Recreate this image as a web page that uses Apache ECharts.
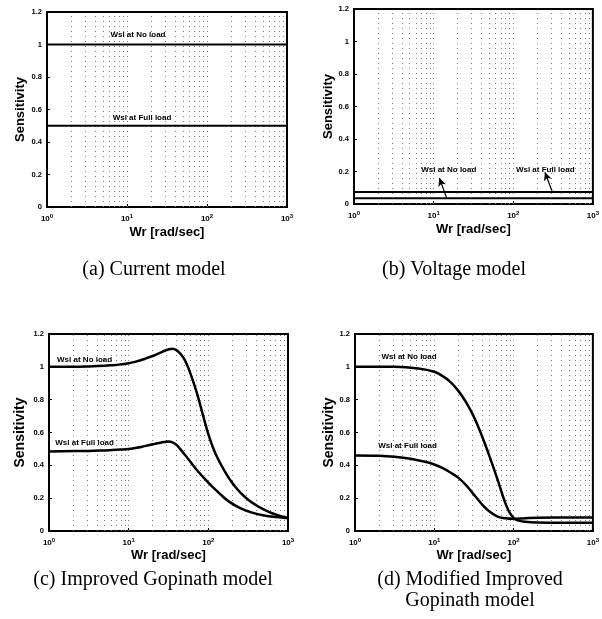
<!DOCTYPE html>
<html><head><meta charset="utf-8">
<script src="https://cdn.jsdelivr.net/npm/echarts@6/dist/echarts.min.js"></script>
<style>html,body{margin:0;padding:0;background:#fff}#c{width:602px;height:619px}</style>
</head><body><div id="c"></div><script>
// ---- data ----
const xTickExponents = [0, 1, 2, 3];
const yTicks = [0, 0.2, 0.4, 0.6, 0.8, 1, 1.2];
const gridLineValues = [2,3,4,5,6,7,8,9,10,20,30,40,50,60,70,80,90,100,200,300,400,500,600,700,800,900];

const aNoLoadX = [1, 1000];
const aNoLoadY = [1.0, 1.0];
const aFullLoadX = [1, 1000];
const aFullLoadY = [0.5, 0.5];

const bNoLoadX = [1, 1000];
const bNoLoadY = [0.036, 0.036];
const bFullLoadX = [1, 1000];
const bFullLoadY = [0.074, 0.074];

const cNoLoadX = [1,2,3.16,5,6.3,7.9,10,12.6,15.8,20,25.1,28.2,31.6,35.5,39.8,44.7,50.1,56.2,63.1,70.8,79.4,89.1,100,112,126,158,200,251,316,398,501,631,794,1000];
const cNoLoadY = [1.0,1.0,1.002,1.006,1.01,1.015,1.022,1.033,1.048,1.066,1.087,1.098,1.106,1.11,1.102,1.08,1.045,0.992,0.925,0.85,0.765,0.675,0.59,0.52,0.46,0.37,0.292,0.235,0.19,0.157,0.13,0.108,0.092,0.08];
const cFullLoadX = [1,3.16,5,6.3,7.9,10,12.6,15.8,20,25.1,28.2,31.6,35.5,39.8,44.7,50.1,56.2,63.1,70.8,79.4,89.1,100,112,141,178,251,355,501,708,1000];
const cFullLoadY = [0.485,0.488,0.491,0.493,0.496,0.50,0.507,0.517,0.528,0.538,0.542,0.545,0.54,0.525,0.497,0.468,0.437,0.405,0.375,0.347,0.32,0.295,0.27,0.225,0.182,0.14,0.112,0.095,0.085,0.078];

const dNoLoadX = [1,3.16,6.3,10,12.6,15.8,20,25.1,31.6,39.8,50.1,63.1,70.8,79.4,89.1,100,112,141,200,1000];
const dNoLoadY = [1.0,1.0,0.99,0.97,0.945,0.91,0.855,0.785,0.695,0.58,0.45,0.31,0.235,0.165,0.112,0.08,0.065,0.056,0.052,0.05];
const dFullLoadX = [1,2,3.16,5,7.9,10,12.6,15.8,20,25.1,31.6,39.8,50.1,63.1,79.4,100,141,200,1000];
const dFullLoadY = [0.46,0.458,0.452,0.44,0.42,0.405,0.385,0.358,0.325,0.28,0.222,0.163,0.117,0.088,0.077,0.074,0.078,0.081,0.082];

const panelCaptions = [['(a) Current model'], ['(b) Voltage model'], ['(c) Improved Gopinath model'], ['(d) Modified Improved', 'Gopinath model']];
const annoNoLoad = 'Wsl at No load';
const annoFullLoad = 'Wsl at Full load';

// ---- layout ----
const grids = [
  {left: 47, top: 12, width: 240, height: 195},
  {left: 354, top: 9, width: 242, height: 195},
  {left: 49, top: 334, width: 239, height: 197},
  {left: 355, top: 334, width: 241, height: 197}
];
const yNameGaps = [20, 15, 22, 18];
const yNameSizes = [13, 13, 14, 14];
const xNameGaps = [19, 19, 18, 18];

const sans = 'Liberation Sans, Arial, sans-serif';
const serif = 'Liberation Serif, Times New Roman, serif';

function xy(xs, ys) { return xs.map((x, i) => [x, ys[i]]); }

const xAxes = grids.map((g, i) => ({
  type: 'log', logBase: 10, min: 1, max: 1000, gridIndex: i,
  axisLine: {show: true, onZero: false, lineStyle: {color: '#000', width: 2}},
  axisTick: {show: true, inside: true, length: 3, lineStyle: {color: '#000'}},
  splitLine: {show: false},
  axisLabel: {
    color: '#000', margin: 6,
    formatter: v => '{a|10}{b|' + Math.round(Math.log10(v)) + '}',
    rich: {
      a: {fontSize: 8, fontWeight: 'bold', fontFamily: sans, color: '#000'},
      b: {fontSize: 6, fontWeight: 'bold', fontFamily: sans, color: '#000', verticalAlign: 'top', padding: [0, 0, 5, 0]}
    }
  },
  name: 'Wr [rad/sec]', nameLocation: 'middle', nameGap: xNameGaps[i],
  nameTextStyle: {fontSize: 13, fontWeight: 'bold', fontFamily: sans, color: '#000'}
}));

const yAxes = grids.map((g, i) => ({
  type: 'value', min: yTicks[0], max: yTicks[yTicks.length - 1], interval: 0.2, gridIndex: i,
  axisLine: {show: true, lineStyle: {color: '#000', width: 2}},
  axisTick: {show: true, inside: true, length: 3, lineStyle: {color: '#000'}},
  splitLine: {show: false},
  axisLabel: {color: '#000', fontSize: 7.5, fontWeight: 'bold', fontFamily: sans, margin: 5,
    formatter: v => String(Math.round(v * 10) / 10)},
  name: 'Sensitivity', nameLocation: 'middle', nameGap: yNameGaps[i], nameRotate: 90,
  nameTextStyle: {fontSize: yNameSizes[i], fontWeight: 'bold', fontFamily: sans, color: '#000'}
}));

const gridMarkLine = {
  silent: true, symbol: 'none', animation: false,
  label: {show: false},
  lineStyle: {color: '#777', width: 1, type: [1, 4]},
  data: gridLineValues.map(v => ({xAxis: v}))
};

function curve(i, data, width, extra) {
  return Object.assign({
    type: 'line', xAxisIndex: i, yAxisIndex: i, data: data,
    showSymbol: false, symbol: 'none', smooth: 0.4,
    lineStyle: {color: '#000', width: width}, animation: false, z: 5
  }, extra || {});
}

const arrowMarkLine = {
  silent: true, animation: false, symbol: ['arrow', 'none'], symbolSize: [6, 8],
  label: {show: false},
  lineStyle: {color: '#000', width: 1.2, type: 'solid'},
  data: [
    [{coord: [11.8, 0.16]}, {coord: [14.6, bNoLoadY[0]]}],
    [{coord: [250, 0.195]}, {coord: [310, bFullLoadY[0]]}]
  ]
};

const series = [
  curve(0, xy(aNoLoadX, aNoLoadY), 2, {markLine: gridMarkLine, smooth: false}),
  curve(0, xy(aFullLoadX, aFullLoadY), 2, {smooth: false}),
  curve(1, xy(bNoLoadX, bNoLoadY), 2, {markLine: gridMarkLine, smooth: false}),
  curve(1, xy(bFullLoadX, bFullLoadY), 2, {markLine: arrowMarkLine, smooth: false}),
  curve(2, xy(cNoLoadX, cNoLoadY), 2.5, {markLine: gridMarkLine}),
  curve(2, xy(cFullLoadX, cFullLoadY), 2.5),
  curve(3, xy(dNoLoadX, dNoLoadY), 2.5, {markLine: gridMarkLine}),
  curve(3, xy(dFullLoadX, dFullLoadY), 2.5)
];

const chart = echarts.init(document.getElementById('c'), null, {renderer: 'canvas'});
chart.setOption({
  backgroundColor: '#fff',
  animation: false,
  grid: grids.map(g => Object.assign({show: true, borderColor: '#000', borderWidth: 2, backgroundColor: 'transparent', containLabel: false}, g)),
  xAxis: xAxes, yAxis: yAxes, series: series
});

// annotation text anchored to data coordinates
const annotations = [
  {grid: 0, x: 13.7, y: 1.06, text: annoNoLoad},
  {grid: 0, x: 15.4, y: 0.55, text: annoFullLoad},
  {grid: 1, x: 15.5, y: 0.21, text: annoNoLoad},
  {grid: 1, x: 252, y: 0.21, text: annoFullLoad},
  {grid: 2, x: 2.8, y: 1.045, text: annoNoLoad},
  {grid: 2, x: 2.8, y: 0.54, text: annoFullLoad},
  {grid: 3, x: 4.8, y: 1.06, text: annoNoLoad},
  {grid: 3, x: 4.6, y: 0.52, text: annoFullLoad}
];
const graphics = annotations.map(a => {
  const p = chart.convertToPixel({gridIndex: a.grid}, [a.x, a.y]);
  return {type: 'text', x: p[0], y: p[1], z: 10,
    style: {text: a.text, fill: '#000', font: 'bold 8px ' + sans, textAlign: 'center', textVerticalAlign: 'middle'}};
});
const captionCenters = [[154, 270], [454, 270], [153, 580], [470, 580]];
panelCaptions.forEach((lines, i) => {
  lines.forEach((t, j) => {
    graphics.push({type: 'text', x: captionCenters[i][0], y: captionCenters[i][1] + j * 21, z: 10,
      style: {text: t, fill: '#000', font: '20px ' + serif, textAlign: 'center', textVerticalAlign: 'middle'}});
  });
});
chart.setOption({graphic: graphics});
</script></body></html>
